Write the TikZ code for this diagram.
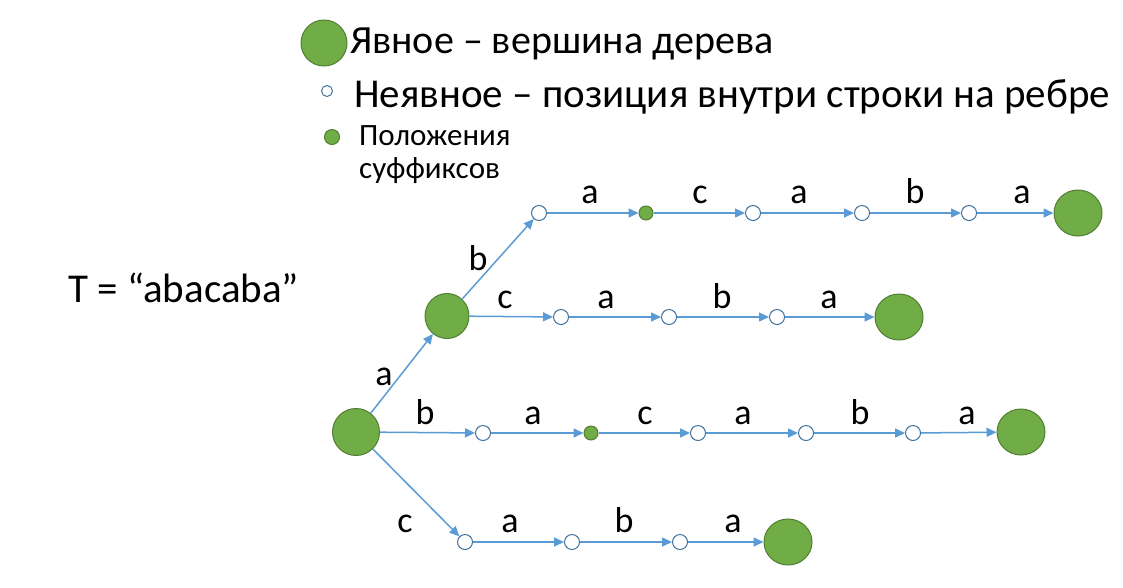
\documentclass[tikz,border=0pt]{standalone}
\usepackage{fontspec}
\setmainfont{Carlito}
\usetikzlibrary{arrows.meta,shapes.geometric}
\definecolor{edgeblue}{HTML}{5B9BD5}
\definecolor{nodegreen}{HTML}{70AD47}
\definecolor{greenline}{HTML}{507E32}
\definecolor{openline}{HTML}{41719C}
\tikzset{
  big/.style={ellipse,draw=greenline,fill=nodegreen,line width=1pt,inner sep=0pt,minimum width=48pt,minimum height=46pt},
  open/.style={circle,draw=openline,fill=white,line width=1pt,inner sep=0pt,minimum size=15pt},
  suf/.style={circle,draw=greenline,fill=nodegreen,line width=1pt,inner sep=0pt,minimum size=14pt},
  edge/.style={draw=edgeblue,line width=1.5pt,-{Triangle[length=10pt,width=9pt]}},
  lbl/.style={inner sep=0pt,anchor=base,font=\fontsize{36}{40}\selectfont},
  leg/.style={inner sep=0pt,anchor=base west,font=\fontsize{40}{46}\selectfont},
  legb/.style={inner sep=0pt,anchor=base west,font=\fontsize{41}{46}\selectfont},
  legs/.style={inner sep=0pt,anchor=base west,font=\fontsize{31}{36}\selectfont}
}
\begin{document}
\begin{tikzpicture}[x=1pt,y=-1pt]
\useasboundingbox (0,0) rectangle (1123,587);
% legend
\node[big,minimum width=46pt,minimum height=46pt] (lg1) at (324,43) {};
\node[leg] (lt1) at (350,53) {Явное – вершина дерева};
\node[open,minimum size=11pt] (lg2) at (327,91) {};
\node[legb] (lt2) at (354,107) {Неявное – позиция внутри строки на ребре};
\node[suf,minimum size=15pt] (lg3) at (332,137) {};
\node[legs] (lt3) at (359,145) {Положения};
\node[legs] (lt4) at (359,178) {суффиксов};
% string
\node[legb] (T) at (68,302) {T = “abacaba”};
% tree nodes
\node[big,minimum width=47pt,minimum height=47pt] (r) at (356,432) {};
\node[big,minimum width=44pt,minimum height=45pt] (A) at (447,316) {};
% top row
\node[open] (t1) at (539,213) {};
\node[suf] (t2) at (646,213) {};
\node[open] (t3) at (753,213) {};
\node[open] (t4) at (862,213) {};
\node[open] (t5) at (969,213) {};
\node[big] (t6) at (1078,213) {};
% row 2
\node[open] (s1) at (561,317) {};
\node[open] (s2) at (669,317) {};
\node[open] (s3) at (777,317) {};
\node[big] (s4) at (899,317) {};
% row 3
\node[open] (u1) at (483,433) {};
\node[suf] (u2) at (591,433) {};
\node[open] (u3) at (698,433) {};
\node[open] (u4) at (806,433) {};
\node[open] (u5) at (913,433) {};
\node[big] (u6) at (1021,432) {};
% row 4
\node[open] (v1) at (465,542) {};
\node[open] (v2) at (572,542) {};
\node[open] (v3) at (680,542) {};
\node[big] (v4) at (788,542) {};
% edges
\draw[edge] (r) -- (A);
\draw[edge] (A) -- (t1);
\draw[edge] (t1) -- (t2);
\draw[edge] (t2) -- (t3);
\draw[edge] (t3) -- (t4);
\draw[edge] (t4) -- (t5);
\draw[edge] (t5) -- (t6);
\draw[edge] (A) -- (s1);
\draw[edge] (s1) -- (s2);
\draw[edge] (s2) -- (s3);
\draw[edge] (s3) -- (s4);
\draw[edge] (r) -- (u1);
\draw[edge] (u1) -- (u2);
\draw[edge] (u2) -- (u3);
\draw[edge] (u3) -- (u4);
\draw[edge] (u4) -- (u5);
\draw[edge] (u5) -- (u6);
\draw[edge] (r) -- (v1);
\draw[edge] (v1) -- (v2);
\draw[edge] (v2) -- (v3);
\draw[edge] (v3) -- (v4);
% labels
\node[lbl] (la0) at (384,385) {a};
\node[lbl] (lb0) at (478,270) {b};
\node[lbl] (lt1a) at (590,203) {a};
\node[lbl] (lt2a) at (700,203) {c};
\node[lbl] (lt3a) at (799,203) {a};
\node[lbl] (lt4a) at (915,203) {b};
\node[lbl] (lt5a) at (1022,203) {a};
\node[lbl] (ls1) at (505,308) {c};
\node[lbl] (ls2) at (606,308) {a};
\node[lbl] (ls3) at (722,308) {b};
\node[lbl] (ls4) at (829,308) {a};
\node[lbl] (lu1) at (425,424) {b};
\node[lbl] (lu2) at (533,424) {a};
\node[lbl] (lu3) at (645,424) {c};
\node[lbl] (lu4) at (743,424) {a};
\node[lbl] (lu5) at (860,424) {b};
\node[lbl] (lu6) at (967,424) {a};
\node[lbl] (lv1) at (405,532) {c};
\node[lbl] (lv2) at (510,532) {a};
\node[lbl] (lv3) at (624,532) {b};
\node[lbl] (lv4) at (733,532) {a};
\end{tikzpicture}
\end{document}
